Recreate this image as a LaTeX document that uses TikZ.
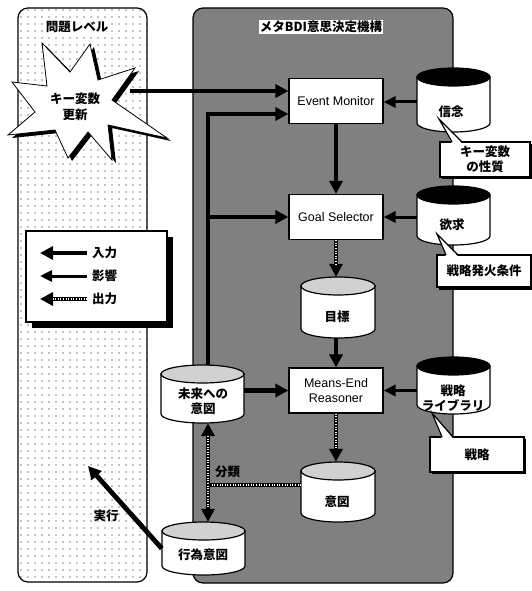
\documentclass[tikz,border=0pt]{standalone}
\usepackage{fontspec}
\setmainfont{Noto Sans CJK JP}
\newfontfamily\lat{Liberation Sans}
\usetikzlibrary{arrows.meta,patterns.meta}

\newcommand\drum[5]{%
 \filldraw[line width=1.2pt, fill=white] ({#1-#3/2},{#2-#4/2+9}) -- ({#1-#3/2},{#2+#4/2-9}) arc[start angle=180, end angle=0, x radius={#3/2}, y radius=9] -- ({#1+#3/2},{#2-#4/2+9}) -- cycle;
 \filldraw[line width=1.2pt, fill=#5] (#1,{#2-#4/2+9}) ellipse[x radius={#3/2}, y radius=9];
}

\tikzset{
 x=1pt, y=-1pt,
 proc/.style={draw, line width=1.2pt, fill=white, minimum width=94pt, minimum height=45pt, font=\lat\fontsize{12.5}{15}\selectfont, align=center, inner sep=0pt},
 lbl/.style={font=\bfseries\fontsize{12.5}{15.5}\selectfont, align=center, inner sep=1pt},
 drumnode/.style={inner sep=0pt},
 inarrow/.style={line width=4.8pt, -{Triangle[length=13pt,width=13pt]}},
 infl/.style={line width=3pt, -{Triangle[length=12pt,width=11pt]}},
 outarrow/.style={line width=4.8pt, -{Triangle[length=13pt,width=13pt]}, postaction={draw=white, line width=2.4pt, dash pattern=on 0.6pt off 2pt, -, shorten >=13pt}},
 outboth/.style={line width=4.8pt, {Triangle[length=13pt,width=13pt]}-{Triangle[length=13pt,width=13pt]}, postaction={draw=white, line width=2.4pt, dash pattern=on 0.6pt off 2pt, -, shorten >=13pt, shorten <=13pt}},
 outline/.style={line width=4.8pt, postaction={draw=white, line width=2.4pt, dash pattern=on 0.6pt off 2pt}},
 callout/.style={draw, line width=1.2pt, fill=white, font=\bfseries\fontsize{12.5}{15.5}\selectfont, align=center, inner sep=0pt},
}

\begin{document}
\begin{tikzpicture}
\useasboundingbox (0,0) rectangle (531,591);

% panels
\draw[line width=1.2pt, rounded corners=10pt, fill=white, postaction={pattern={Dots[distance=7pt, radius=0.7pt]}, pattern color=black}] (18,8) rectangle (147,582);
\draw[line width=1.2pt, rounded corners=10pt, fill=black!50] (193,8) rectangle (453,583);
\node[lbl, fill=white] (t1) at (77,27) {問題レベル};
\node[lbl, fill=white] (t2) at (321,27) {メタBDI意思決定機構};

% starburst
\def\starpath{(42,43) -- (70,72) -- (90,44) -- (98,80) -- (135,68) -- (112,100) -- (167,138) -- (108,125) -- (112,160) -- (88,132) -- (68,158) -- (55,130) -- (8,135) -- (35,112) -- (12,82) -- (47,86) -- cycle}
\begin{scope}[shift={(4,3)}]
\fill[black] \starpath;
\end{scope}
\filldraw[fill=white, line width=0.8pt] \starpath;
\node[lbl] (star) at (75,107) {キー変数\\更新};

% process boxes
\node[proc] (em) at (336,101) {Event Monitor};
\node[proc] (gs) at (336,217) {Goal Selector};
\node[proc] (mer) at (336,390.5) {Means-End\\Reasoner};

% cylinders
\drum{338}{307.5}{74}{61}{black!18}
\node[drumnode, minimum width=74pt, minimum height=61pt] (goal) at (338,307.5) {};
\node[lbl] (goalT) at (337,317) {目標};

\drum{338}{492}{74}{60}{black!18}
\node[drumnode, minimum width=74pt, minimum height=60pt] (ito) at (338,492) {};
\node[lbl] (itoT) at (337,502) {意図};

\drum{453.5}{100}{73}{64}{black}
\node[drumnode, minimum width=73pt, minimum height=64pt] (bel) at (453.5,100) {};
\node[lbl] (belT) at (451,112) {信念};

\drum{453.5}{215.5}{73}{59}{black}
\node[drumnode, minimum width=73pt, minimum height=59pt] (des) at (453.5,215.5) {};
\node[lbl] (desT) at (452,225) {欲求};

\drum{453.5}{385.5}{73}{57}{black}
\node[drumnode, minimum width=73pt, minimum height=57pt] (lib) at (453.5,385.5) {};
\node[lbl] (libT) at (453,398) {戦略\\ライブラリ};

\drum{202.5}{394}{83}{58}{black!18}
\node[drumnode, minimum width=83pt, minimum height=58pt] (fut) at (202.5,394) {};
\node[lbl] (futT) at (203,401) {未来への\\意図};

\drum{203.5}{548.5}{83}{53}{black!18}
\node[drumnode, minimum width=83pt, minimum height=53pt] (act) at (203.5,548.5) {};
\node[lbl] (actT) at (203,555) {行為意図};

% callouts
\fill[black] (442,144) rectangle (532,179);
\node[callout, minimum width=90pt, minimum height=35pt] (c1) at (485,159.5) {キー変数\\の性質};
\fill[white] (452,143.5) -- (439,119) -- (462,143.5) -- cycle;
\draw[line width=1.2pt, line join=miter] (452,142) -- (439,119) -- (462,142);

\fill[black] (439,257) rectangle (532,290);
\node[callout, minimum width=94pt, minimum height=32pt] (c2) at (484,271) {戦略発火条件};
\fill[white] (446,256.5) -- (437,234) -- (458,256.5) -- cycle;
\draw[line width=1.2pt, line join=miter] (446,255) -- (437,234) -- (458,255);

\fill[black] (432,439) rectangle (526,474);
\node[callout, minimum width=94pt, minimum height=35pt] (c3) at (477,454.5) {戦略};
\fill[white] (442,438.5) -- (432,413) -- (453,438.5) -- cycle;
\draw[line width=1.2pt, line join=miter] (442,437) -- (432,413) -- (453,437);

% legend
\fill[black] (32,237) rectangle (173,328);
\node[draw, line width=1.2pt, fill=white, minimum width=141pt, minimum height=91pt, inner sep=0pt] (leg) at (96.5,276.5) {};
\coordinate (l1s) at (87,253); \coordinate (l1e) at (40,253);
\coordinate (l2s) at (87,276); \coordinate (l2e) at (40,276);
\coordinate (l3s) at (87,299); \coordinate (l3e) at (40,299);
\draw[inarrow] (l1s) -- (l1e);
\draw[infl] (l2s) -- (l2e);
\draw[outarrow] (l3s) -- (l3e);
\node[lbl, anchor=west] (l1t) at (91,253) {入力};
\node[lbl, anchor=west] (l2t) at (91,276) {影響};
\node[lbl, anchor=west] (l3t) at (91,299) {出力};

% connectors
\coordinate (starR) at (130,91);
\draw[inarrow] (starR) -- (starR -| em.west);
\coordinate (j1) at (208,114);
\draw[inarrow, line join=miter] (fut.north -| j1) -- (j1) -- (j1 -| em.west);
\draw[inarrow] (j1 |- gs.west) -- (gs.west);
\draw[inarrow] (em.south) -- (gs.north);
\draw[outarrow] (gs.south) -- (gs.south |- goal.north);
\draw[inarrow] (goal.south -| mer.north) -- (mer.north);
\draw[inarrow] (fut.east |- mer.west) -- (mer.west);
\draw[outarrow] (mer.south) -- (mer.south |- ito.north);
\draw[infl] (bel.west |- 0,102) -- (em.east |- 0,102);
\draw[infl] (des.west |- gs.east) -- (gs.east);
\draw[infl] (lib.west |- mer.east) -- (mer.east);

\coordinate (j2) at (208,485);
\draw[outline] (ito.west |- j2) -- (j2);
\draw[outboth] (fut.south -| j2) -- (act.north -| j2);
\node[lbl, anchor=west] (bunrui) at (214,472) {分類};

\coordinate (exeEnd) at (88,466);
\draw[inarrow] (act.west) -- (exeEnd);
\node[lbl] (exeT) at (106,516) {実行};
\end{tikzpicture}
\end{document}
